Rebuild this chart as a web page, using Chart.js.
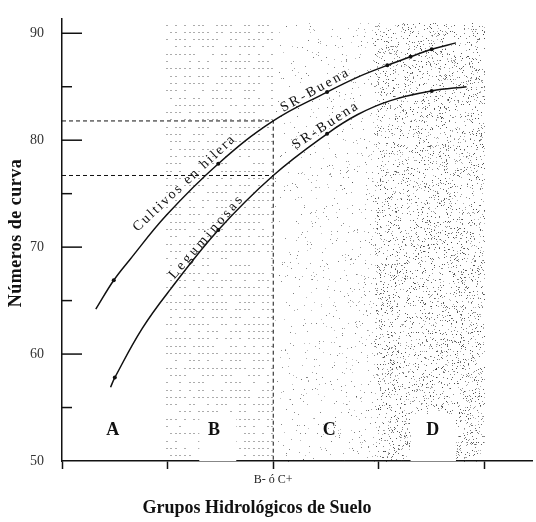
<!DOCTYPE html>
<html>
<head>
<meta charset="utf-8">
<script src="https://cdn.jsdelivr.net/npm/chart.js@4.4.0/dist/chart.umd.min.js"></script>
<style>
  html, body { margin: 0; padding: 0; background: #fff; }
  canvas { display: block; }
</style>
</head>
<body>
<canvas id="cn" width="536" height="522"></canvas>
<script>
// curve "Cultivos en hilera" (upper)
const hileraX = [0.32, 0.49, 0.64, 0.99, 1.48, 2.00, 2.51, 2.80, 3.08, 3.30, 3.50, 3.73];
const hileraY = [64.2, 66.9, 68.8, 73.0, 77.8, 81.8, 84.5, 85.9, 87.0, 87.8, 88.5, 89.1];
// curve "Leguminosas" (lower)
const legumX = [0.46, 0.50, 0.76, 1.03, 1.48, 2.00, 2.51, 2.80, 3.11, 3.50, 3.83];
const legumY = [56.9, 57.8, 62.4, 66.1, 71.6, 76.7, 80.6, 82.4, 83.7, 84.6, 85.0];
// marked points on the curves
const hileraDotX = [0.49, 1.48, 2.51, 3.08, 3.30, 3.50];
const hileraDotY = [66.9, 77.8, 84.5, 87.0, 87.8, 88.5];
const legumDotX = [0.50, 1.48, 2.51, 3.50];
const legumDotY = [57.8, 71.6, 80.6, 84.6];
// reading at group B- o C+
const refGroup = 2;
const refValues = [81.8, 76.7];

const groupLabels = ["A", "B", "C", "D"];
const groupTickLabels = ["", "", "B- ó C+", "", ""];
const yTickLabels = [50, 60, 70, 80, 90];

const toPts = (xs, ys) => xs.map((x, i) => ({ x: x, y: ys[i] }));

function rng(seed) {
    let s = seed >>> 0;
    return () => {
        s = (s * 1664525 + 1013904223) >>> 0;
        return s / 4294967296;
    };
}

const serif = "'Liberation Serif', 'DejaVu Serif', serif";

const decor = {
    id: "decor",
    beforeDatasetsDraw(chart) {
        const ctx = chart.ctx;
        const xa = chart.scales.x, ya = chart.scales.y;
        const top = ya.getPixelForValue(91), bot = ya.getPixelForValue(50);
        const r = rng(7);
        ctx.save();
        // B: rows of dotted lines
        const b1 = xa.getPixelForValue(0.98), b2 = xa.getPixelForValue(2);
        ctx.fillStyle = "rgba(90,90,90,0.5)";
        for (let y = top + 2; y < bot; y += 7.3) {
            for (let x = b1; x < b2; x += 4.6) {
                if (r() < 0.65) ctx.fillRect(Math.round(x), Math.round(y), 2, 1);
            }
        }
        // C: sparse stipple, thicker near D
        const c1 = xa.getPixelForValue(2), c2 = xa.getPixelForValue(3);
        const d2 = xa.getPixelForValue(4);
        const nC = (c2 - c1) * (bot - top) / 55;
        for (let i = 0; i < nC; i++) {
            const x = c1 + Math.pow(r(), 0.75) * (c2 - c1);
            const y = top + r() * (bot - top);
            ctx.fillStyle = "rgba(60,60,60," + (0.3 + r() * 0.4).toFixed(2) + ")";
            ctx.fillRect(Math.round(x), Math.round(y), 1, 1);
        }
        // D: denser stipple
        const nD = (d2 - c2) * (bot - top) / 11;
        for (let i = 0; i < nD; i++) {
            const x = c2 - 4 + r() * (d2 - c2 + 4);
            const y = top + r() * (bot - top);
            ctx.fillStyle = "rgba(40,40,40," + (0.3 + r() * 0.55).toFixed(2) + ")";
            ctx.fillRect(Math.round(x), Math.round(y), 1, 1);
        }
        // blank boxes behind the B and D letters
        ctx.fillStyle = "#fff";
        const boxTop = ya.getPixelForValue(54.4);
        ctx.fillRect(xa.getPixelForValue(1.30), boxTop, xa.getPixelForValue(1.65) - xa.getPixelForValue(1.30), bot - boxTop);
        ctx.fillRect(xa.getPixelForValue(3.30), boxTop, xa.getPixelForValue(3.73) - xa.getPixelForValue(3.30), bot - boxTop);
        ctx.restore();
    },
    afterDatasetsDraw(chart) {
        const ctx = chart.ctx;
        const xa = chart.scales.x, ya = chart.scales.y;
        const area = chart.chartArea;
        ctx.save();
        // inward ticks on the y axis
        ctx.strokeStyle = "#111";
        ctx.lineWidth = 1.5;
        for (let v = 55; v <= 90; v += 5) {
            const y = ya.getPixelForValue(v);
            const len = v % 10 === 0 ? 20 : 10;
            ctx.beginPath();
            ctx.moveTo(area.left, y);
            ctx.lineTo(area.left + len, y);
            ctx.stroke();
        }
        // curve labels
        const curveText = (txt, x, y, deg, spacing) => {
            ctx.save();
            ctx.translate(xa.getPixelForValue(x), ya.getPixelForValue(y));
            ctx.rotate(deg * Math.PI / 180);
            ctx.font = "14px " + serif;
            ctx.letterSpacing = spacing + "px";
            ctx.fillStyle = "#111";
            ctx.textAlign = "center";
            ctx.textBaseline = "middle";
            ctx.fillText(txt, 0, 0);
            ctx.restore();
        };
        curveText("Cultivos en hilera", 1.16, 76.0, -43, 2);
        curveText("Leguminosas", 1.37, 71.0, -49, 3);
        curveText("SR-Buena", 2.40, 84.7, -29, 2.5);
        curveText("SR-Buena", 2.50, 81.4, -33, 2.5);
        // group letters
        ctx.font = "bold 18px " + serif;
        ctx.fillStyle = "#111";
        ctx.textAlign = "center";
        ctx.textBaseline = "middle";
        const lx = [0.48, 1.44, 2.53, 3.51];
        groupLabels.forEach((g, i) => {
            ctx.fillText(g, xa.getPixelForValue(lx[i]), ya.getPixelForValue(52.9));
        });
        ctx.restore();
    },
    afterDraw(chart) {
        const ctx = chart.ctx;
        ctx.save();
        ctx.fillStyle = "#111";
        ctx.font = "bold 18px " + serif;
        ctx.textAlign = "center";
        ctx.textBaseline = "middle";
        ctx.fillText("Grupos Hidrológicos de Suelo", 257, 508);
        ctx.translate(16, 233);
        ctx.rotate(-Math.PI / 2);
        ctx.letterSpacing = "0.5px";
        ctx.fillText("Números de curva", 0, 0);
        ctx.restore();
    }
};

const lineStyle = {
    borderColor: "#111",
    borderWidth: 1.5,
    pointRadius: 0,
    fill: false,
    tension: 0.4
};
const dashStyle = {
    borderColor: "#111",
    borderWidth: 1,
    borderDash: [4, 3],
    pointRadius: 0,
    fill: false,
    tension: 0
};

new Chart(document.getElementById("cn"), {
    type: "line",
    data: {
        datasets: [
            Object.assign({ data: toPts(hileraX, hileraY) }, lineStyle),
            Object.assign({ data: toPts(legumX, legumY) }, lineStyle),
            Object.assign({ data: [{ x: 0, y: refValues[0] }, { x: refGroup, y: refValues[0] }, { x: refGroup, y: 50 }] }, dashStyle),
            Object.assign({ data: [{ x: 0, y: refValues[1] }, { x: refGroup, y: refValues[1] }] }, dashStyle),
            {
                type: "scatter",
                data: toPts(hileraDotX, hileraDotY).concat(toPts(legumDotX, legumDotY)),
                pointRadius: 2,
                pointBackgroundColor: "#111",
                pointBorderWidth: 0
            }
        ]
    },
    options: {
        responsive: false,
        animation: false,
        layout: { padding: 0 },
        plugins: { legend: { display: false }, tooltip: { enabled: false } },
        scales: {
            x: {
                type: "linear",
                min: 0,
                max: 4.45,
                afterFit(s) { s.height = 61; },
                afterBuildTicks(s) { s.ticks = [0, 1, 2, 3, 4].map(v => ({ value: v })); },
                grid: {
                    drawOnChartArea: false,
                    tickLength: 8,
                    tickColor: "#111",
                    tickWidth: 1.5
                },
                border: { color: "#111", width: 1.5 },
                ticks: {
                    padding: 4,
                    color: "#222",
                    font: { family: serif, size: 12 },
                    maxRotation: 0,
                    callback: (v) => groupTickLabels[v] || ""
                }
            },
            y: {
                min: 50,
                max: 91.39,
                afterFit(s) { s.width = 62; },
                afterBuildTicks(s) { s.ticks = yTickLabels.map(v => ({ value: v })); },
                grid: { display: false },
                border: { color: "#111", width: 1.5 },
                ticks: {
                    padding: 10,
                    color: "#333",
                    font: { family: serif, size: 14 }
                }
            }
        }
    },
    plugins: [decor]
});
</script>
</body>
</html>
